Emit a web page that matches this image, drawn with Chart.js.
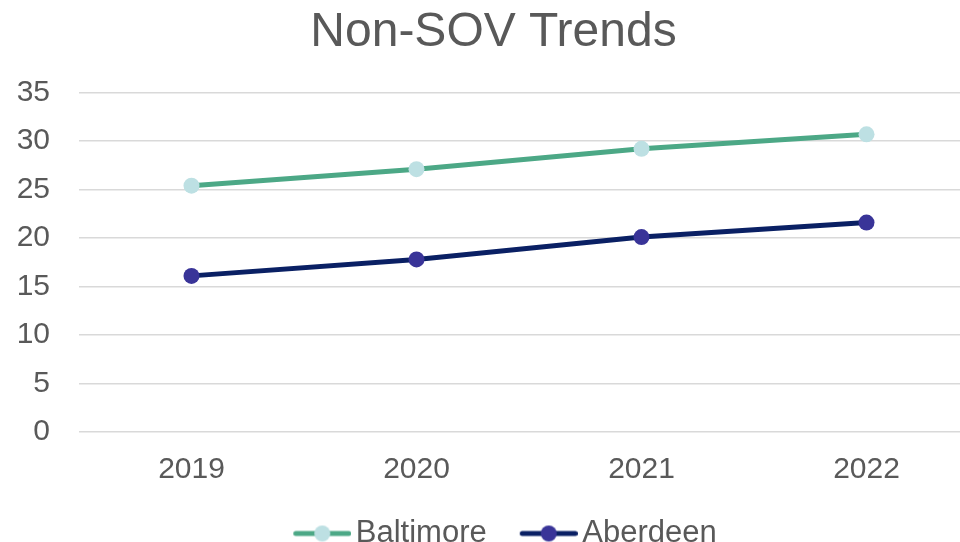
<!DOCTYPE html>
<html>
<head>
<meta charset="utf-8">
<script src="https://cdn.jsdelivr.net/npm/chart.js"></script>
<style>
  html, body { margin: 0; padding: 0; background: #fff; overflow: hidden; }
  #wrap { width: 1000px; height: 559px; }
</style>
</head>
<body>
<div id="wrap"><canvas id="chart"></canvas></div>
<script>
const years = ["2019", "2020", "2021", "2022"];
const baltimore = [25.4, 27.1, 29.2, 30.7];
const aberdeen = [16.1, 17.8, 20.1, 21.6];
const yMin = 0;
const yMax = 35;
const yStep = 5;

const textColor = "#595959";
const fontFamily = "'Liberation Sans', Arial, sans-serif";

// legend marker: line with a dot, padded on the left so it sits close to the text
function legendMarker(lineColor, dotColor) {
    const c = document.createElement("canvas");
    c.width = 92;
    c.height = 20;
    const ctx = c.getContext("2d");
    ctx.strokeStyle = lineColor;
    ctx.lineWidth = 5;
    ctx.lineCap = "round";
    ctx.beginPath();
    ctx.moveTo(36.5, 10);
    ctx.lineTo(89.5, 10);
    ctx.stroke();
    ctx.fillStyle = dotColor;
    ctx.beginPath();
    ctx.arc(63, 10, 8, 0, Math.PI * 2);
    ctx.fill();
    return c;
}

const series = [
    { label: "Baltimore", data: baltimore, line: "#4ca886", dot: "#bde0e3" },
    { label: "Aberdeen", data: aberdeen, line: "#0a2064", dot: "#393498" }
];
const markers = series.map(s => legendMarker(s.line, s.dot));

new Chart(document.getElementById("chart"), {
    type: "line",
    data: {
        labels: years,
        datasets: series.map(s => ({
            label: s.label,
            data: s.data,
            borderColor: s.line,
            borderWidth: 5,
            backgroundColor: s.dot,
            pointBackgroundColor: s.dot,
            pointBorderWidth: 0,
            pointRadius: 8,
            tension: 0
        }))
    },
    options: {
        responsive: true,
        maintainAspectRatio: false,
        animation: false,
        layout: { padding: { left: 8, right: 21, top: 0, bottom: 0 } },
        plugins: {
            title: {
                display: true,
                text: "Non-SOV Trends",
                color: textColor,
                font: { family: fontFamily, size: 48, weight: "normal" },
                padding: { top: 4, bottom: 31 }
            },
            legend: {
                position: "bottom",
                labels: {
                    usePointStyle: true,
                    pointStyleWidth: 70,
                    padding: 10,
                    color: textColor,
                    font: { family: fontFamily, size: 31 },
                    generateLabels(chart) {
                        return chart.data.datasets.map((ds, i) => ({
                            text: ds.label,
                            pointStyle: markers[i],
                            fontColor: textColor,
                            fillStyle: "transparent",
                            strokeStyle: "transparent",
                            lineWidth: 0,
                            hidden: false,
                            datasetIndex: i
                        }));
                    }
                }
            },
            tooltip: { enabled: false }
        },
        scales: {
            x: {
                offset: true,
                grid: { display: false, drawTicks: false },
                border: { display: false },
                ticks: {
                    color: textColor,
                    font: { family: fontFamily, size: 30, lineHeight: 1 },
                    padding: 23
                }
            },
            y: {
                min: yMin,
                max: yMax,
                afterFit(scale) { scale.width = 71; },
                grid: { color: "#d9d9d9", lineWidth: 1.5, drawTicks: false },
                border: { display: false },
                ticks: {
                    stepSize: yStep,
                    color: textColor,
                    font: { family: fontFamily, size: 30 },
                    padding: 29
                }
            }
        }
    }
});
</script>
</body>
</html>
